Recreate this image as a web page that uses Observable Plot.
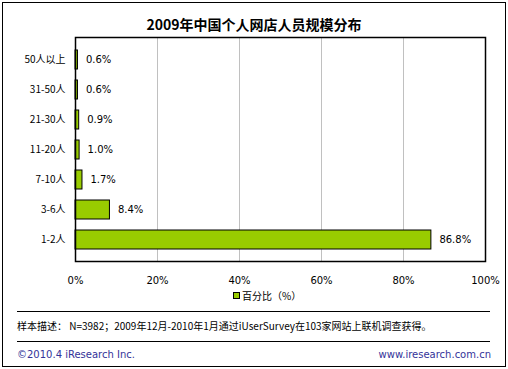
<!DOCTYPE html>
<html><head><meta charset="utf-8">
<script src="https://cdn.jsdelivr.net/npm/d3@7"></script>
<script src="https://cdn.jsdelivr.net/npm/@observablehq/plot@0.6"></script>
<style>
body{margin:0;background:#fff;font-family:"DejaVu Sans","Noto Sans CJK SC",sans-serif;}
#wrap{position:relative;width:508px;height:369px;overflow:hidden;}
#box{position:absolute;left:2px;top:2px;width:502px;height:363px;border:1px solid #000;}
#title{position:absolute;left:0;width:508px;top:14px;text-align:center;font:bold 14px "Noto Sans CJK SC",sans-serif;color:#000;}
#chart{position:absolute;left:0;top:0;}
#legend{position:absolute;left:233px;top:288px;font:10px "Noto Sans CJK SC",sans-serif;color:#000;display:flex;align-items:center;}
#legend span.sw{display:inline-block;width:5px;height:5px;background:#99CC00;border:1px solid #000;margin-right:2px;}
.hr{position:absolute;left:17px;width:473px;height:0;border-top:1px solid #000;}
#note{position:absolute;left:17px;top:318px;font:10px "Noto Sans CJK SC",sans-serif;color:#000;white-space:nowrap;}
#copy{position:absolute;left:17px;top:349px;font:10px "DejaVu Sans",sans-serif;color:#333399;}
#url{position:absolute;right:17px;top:349px;font:10px "DejaVu Sans",sans-serif;color:#333399;}
</style></head>
<body>
<div id="wrap">
<div id="box"></div>
<div id="chart"></div>
<div id="title">2009年中国个人网店人员规模分布</div>
<div id="legend"><span class="sw"></span>百分比（%）</div>
<div class="hr" style="top:311px"></div>
<div id="note">样本描述： N=3982；2009年12月-2010年1月通过iUserSurvey在103家网站上联机调查获得。</div>
<div class="hr" style="top:341px"></div>
<div id="copy">©2010.4 iResearch Inc.</div>
<div id="url">www.iresearch.com.cn</div>
</div>
<script>
const categories = ["50人以上","31-50人","21-30人","11-20人","7-10人","3-6人","1-2人"];
const values = [0.6, 0.6, 0.9, 1.0, 1.7, 8.4, 86.8];
const xTicks = [0, 20, 40, 60, 80, 100];

const data = categories.map((c, i) => ({cat: c, v: values[i]}));

const chart = Plot.plot({
  width: 508,
  height: 300,
  marginLeft: 75,
  marginRight: 23,
  marginTop: 37,
  marginBottom: 39,
  style: {fontFamily: '"DejaVu Sans","Noto Sans CJK SC",sans-serif', fontSize: "10px", background: "transparent", color: "#000"},
  x: {domain: [0, 100], ticks: xTicks},
  y: {domain: categories, padding: 0.375},
  marks: [
    Plot.gridX(xTicks.filter(t => t > 0 && t < 100), {stroke: "#c0c0c0", strokeOpacity: 1}),
    Plot.axisX({ticks: xTicks, tickSize: 0, tickPadding: 15, tickFormat: d => d + "%", label: null, fontSize: 10}),
    Plot.axisY({tickSize: 0, tickPadding: 10, label: null, fontSize: 10, fontFamily: '"Noto Sans CJK SC",sans-serif'}),
    Plot.barX(data, {x: "v", y: "cat", fill: "#99CC00", stroke: "#000", strokeWidth: 1}),
    Plot.text(data, {x: "v", y: "cat", text: d => d.v.toFixed(1) + "%", textAnchor: "start", dx: 8, fontSize: 10}),
    Plot.frame({stroke: "#000", strokeWidth: 1.5})
  ]
});
document.getElementById("chart").appendChild(chart);
</script>
</body></html>
